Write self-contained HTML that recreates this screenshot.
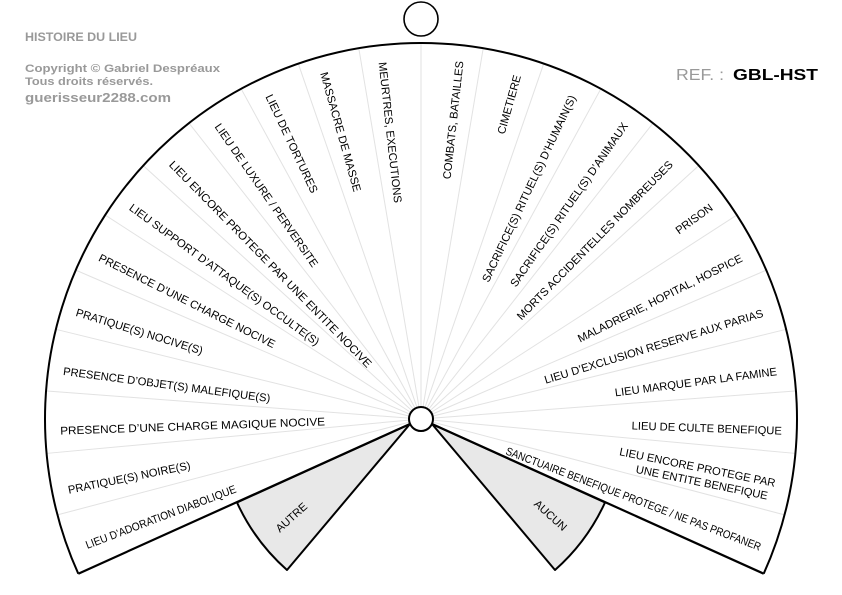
<!DOCTYPE html>
<html><head><meta charset="utf-8"><style>
html,body{margin:0;padding:0;background:#fff;width:842px;height:595px;overflow:hidden}
svg{display:block}
.l{font-family:"Liberation Sans",sans-serif;font-size:11.2px;fill:#000;white-space:pre}
</style></head><body>
<svg width="842" height="595" viewBox="0 0 842 595" xmlns="http://www.w3.org/2000/svg">
<g font-family="Liberation Sans, sans-serif" fill="#999" font-weight="bold">
<text x="25" y="41" font-size="12" textLength="112" lengthAdjust="spacingAndGlyphs">HISTOIRE DU LIEU</text>
<text x="25" y="72" font-size="11" textLength="195" lengthAdjust="spacingAndGlyphs">Copyright © Gabriel Despréaux</text>
<text x="25" y="85" font-size="11" textLength="128" lengthAdjust="spacingAndGlyphs">Tous droits réservés.</text>
<text x="25" y="102" font-size="13" textLength="146" lengthAdjust="spacingAndGlyphs">guerisseur2288.com</text>
</g>
<text x="676" y="80" font-family="Liberation Sans, sans-serif" font-size="16" fill="#999" textLength="48" lengthAdjust="spacingAndGlyphs">REF. :</text>
<text x="733" y="80" font-family="Liberation Sans, sans-serif" font-size="16" font-weight="bold" fill="#000" textLength="85" lengthAdjust="spacingAndGlyphs">GBL-HST</text>

<circle cx="421" cy="19" r="17" fill="#fff" stroke="#000" stroke-width="1.6"/>

<path d="M421,419 L78.3,573.7 A376,376 0 1 1 763.7,573.7 Z" fill="#fff" stroke="none"/>
<g stroke="#e2e2e2" stroke-width="1" id="div"></g>
<path d="M410,424 L237,502.5 A202,202 0 0 0 287,570 Z" fill="#e8e8e8" stroke="#000" stroke-width="2" stroke-linejoin="round"/>
<path d="M432,424 L605,502.5 A202,202 0 0 1 555,570 Z" fill="#e8e8e8" stroke="#000" stroke-width="2" stroke-linejoin="round"/>
<path d="M78.3,573.7 A376,376 0 1 1 763.7,573.7" fill="none" stroke="#000" stroke-width="2"/>
<line x1="410" y1="424" x2="78.3" y2="573.7" stroke="#000" stroke-width="2.2"/>
<line x1="432" y1="424" x2="763.7" y2="573.7" stroke="#000" stroke-width="2.2"/>
<circle cx="421" cy="419" r="12" fill="#fff" stroke="#000" stroke-width="2"/>

<text class="l" transform="translate(292,518) rotate(-42)" text-anchor="middle" dominant-baseline="central" font-size="11.5">AUTRE</text>
<text class="l" transform="translate(550,516) rotate(42)" text-anchor="middle" dominant-baseline="central" font-size="11.5">AUCUN</text>

<g class="l" dominant-baseline="central">
<text transform="translate(421,419) rotate(-20.8)" x="-358" textLength="160" lengthAdjust="spacingAndGlyphs">LIEU D’ADORATION DIABOLIQUE</text>
<text transform="translate(421,419) rotate(-11.5)" x="-360">PRATIQUE(S)  NOIRE(S)</text>
<text transform="translate(421,419) rotate(-2)" x="-361" textLength="265" lengthAdjust="spacingAndGlyphs">PRESENCE D’UNE CHARGE MAGIQUE  NOCIVE</text>
<text transform="translate(421,419) rotate(7.5)" x="-361">PRESENCE D’OBJET(S) MALEFIQUE(S)</text>
<text transform="translate(421,419) rotate(17.1)" x="-361">PRATIQUE(S)  NOCIVE(S)</text>
<text transform="translate(421,419) rotate(26.6)" x="-360">PRESENCE D’UNE CHARGE NOCIVE</text>
<text transform="translate(421,419) rotate(36.1)" x="-360">LIEU  SUPPORT  D’ATTAQUE(S)  OCCULTE(S)</text>
<text transform="translate(421,419) rotate(45.6)" x="-358" textLength="284" lengthAdjust="spacingAndGlyphs">LIEU ENCORE PROTEGE PAR UNE ENTITE NOCIVE</text>
<text transform="translate(421,419) rotate(55.2)" x="-358">LIEU DE LUXURE / PERVERSITE</text>
<text transform="translate(421,419) rotate(64.7)" x="-358">LIEU DE TORTURES</text>
<text transform="translate(421,419) rotate(74.2)" x="-360">MASSACRE DE MASSE</text>
<text transform="translate(421,419) rotate(83.7)" x="-359">MEURTRES, EXECUTIONS</text>

<text transform="translate(421,419) rotate(-83.7)" x="360" text-anchor="end">COMBATS, BATAILLES</text>
<text transform="translate(421,419) rotate(-74.2)" x="357" text-anchor="end">CIMETIERE</text>
<text transform="translate(421,419) rotate(-64.7)" x="357" text-anchor="end">SACRIFICE(S) RITUEL(S) D’HUMAIN(S)</text>
<text transform="translate(421,419) rotate(-55.2)" x="359" text-anchor="end">SACRIFICE(S) RITUEL(S) D’ANIMAUX</text>
<text transform="translate(421,419) rotate(-45.6)" x="358" text-anchor="end">MORTS ACCIDENTELLES NOMBREUSES</text>
<text transform="translate(421,419) rotate(-36.1)" x="360" text-anchor="end">PRISON</text>
<text transform="translate(421,419) rotate(-26.6)" x="359" text-anchor="end">MALADRERIE, HOPITAL, HOSPICE</text>
<text transform="translate(421,419) rotate(-17.1)" x="358" text-anchor="end">LIEU D’EXCLUSION RESERVE AUX PARIAS</text>
<text transform="translate(421,419) rotate(-7.5)" x="359" text-anchor="end">LIEU MARQUE PAR LA FAMINE</text>
<text transform="translate(421,419) rotate(2)" x="361" text-anchor="end">LIEU DE CULTE BENEFIQUE</text>
<text transform="translate(421,419) rotate(11.5)" x="360" y="-7" text-anchor="end">LIEU ENCORE PROTEGE PAR</text>
<text transform="translate(421,419) rotate(11.5)" x="355" y="7" text-anchor="end">UNE ENTITE BENEFIQUE</text>
<text transform="translate(421,419) rotate(20.8)" x="363" text-anchor="end" textLength="272" lengthAdjust="spacingAndGlyphs">SANCTUAIRE BENEFIQUE PROTEGE / NE PAS PROFANER</text>
</g>
</svg>
<script>
(function(){
var g=document.getElementById('div'),ns='http://www.w3.org/2000/svg';
for(var k=1;k<24;k++){var a=(204.3-9.525*k)*Math.PI/180;
var l=document.createElementNS(ns,'line');
l.setAttribute('x1',421+12*Math.cos(a));l.setAttribute('y1',419-12*Math.sin(a));
l.setAttribute('x2',421+375*Math.cos(a));l.setAttribute('y2',419-375*Math.sin(a));
g.appendChild(l);}
})();
</script>
</body></html>
